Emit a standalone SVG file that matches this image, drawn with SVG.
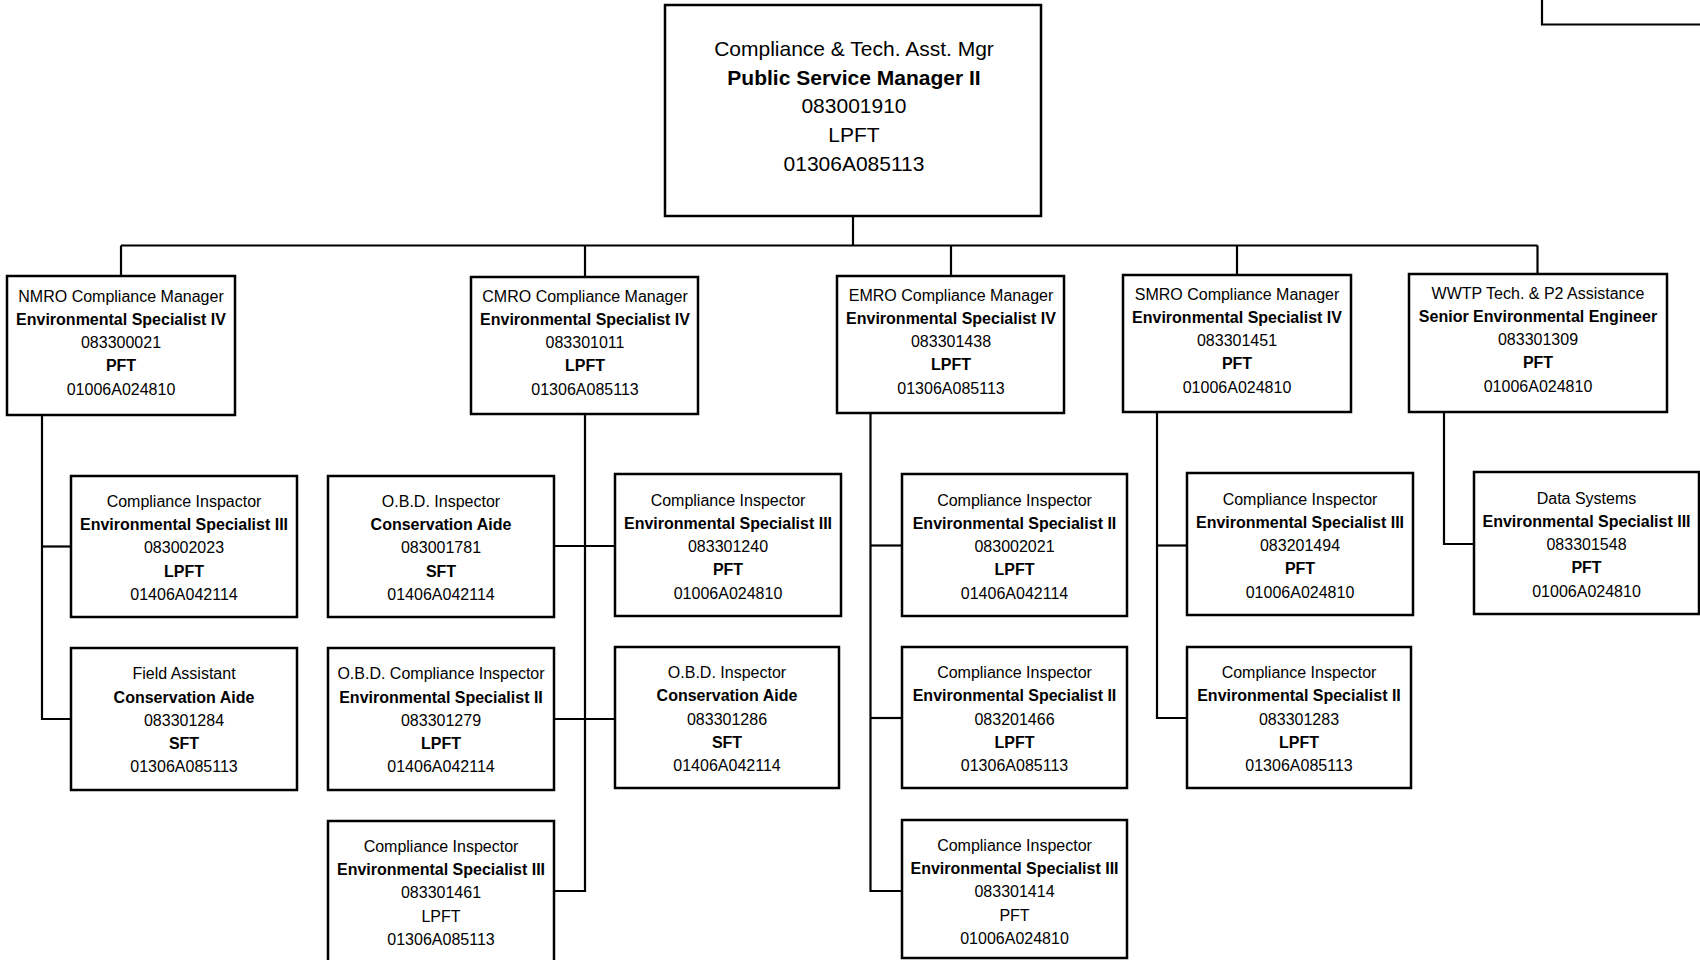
<svg xmlns="http://www.w3.org/2000/svg" width="1700" height="960" viewBox="0 0 1700 960">
  <style>
    .box { fill: #ffffff; stroke: #000000; stroke-width: 2.5; }
    .wire { fill: none; stroke: #000000; stroke-width: 2.2; }
    text { font-family: "Liberation Sans", Arial, Helvetica, sans-serif; fill: #000000; text-anchor: middle; }
    .t16 { font-size: 16px; }
    .t21 { font-size: 21px; }
    .b { font-weight: bold; }
  </style>
  <rect x="0" y="0" width="1700" height="960" fill="#ffffff"/>

  <!-- Reporting lines -->
  <g id="connectors" class="wire">
    <!-- manager to regional bus -->
    <path d="M853,216 V245.5"/>
    <path d="M121,245.5 H1537.5"/>
    <path d="M121,245.5 V276"/>
    <path d="M585,245.5 V277"/>
    <path d="M951,245.5 V276"/>
    <path d="M1237,245.5 V275"/>
    <path d="M1537.5,245.5 V274"/>
    <!-- NMRO staff -->
    <path d="M42,415 V719 H71"/>
    <path d="M42,546.5 H71"/>
    <!-- CMRO staff -->
    <path d="M585,414 V891 H554"/>
    <path d="M554,546 H615"/>
    <path d="M554,719 H615"/>
    <!-- EMRO staff -->
    <path d="M870.5,413 V891 H902"/>
    <path d="M870.5,545.5 H902"/>
    <path d="M870.5,718 H902"/>
    <!-- SMRO staff -->
    <path d="M1157,412 V718 H1187"/>
    <path d="M1157,545.5 H1187"/>
    <!-- WWTP staff -->
    <path d="M1444,412 V544 H1474"/>
  </g>

  <!-- legend box at the page corner -->
  <g id="legend">
    <path class="wire" d="M1542,0 V24.5 H1700"/>
  </g>

  <!-- Program manager -->
  <g id="mgr">
    <rect class="box" x="665" y="5" width="376" height="211"/>
    <text class="t21" x="854" y="55.5">Compliance &amp; Tech. Asst. Mgr</text>
    <text class="t21 b" x="854" y="84.5">Public Service Manager II</text>
    <text class="t21" x="854" y="113">083001910</text>
    <text class="t21" x="854" y="142">LPFT</text>
    <text class="t21" x="854" y="170.5">01306A085113</text>
  </g>

  <!-- Regional compliance managers -->
  <g id="nmro">
    <rect class="box" x="7" y="276" width="228" height="139"/>
    <text class="t16" x="121" y="301.5">NMRO Compliance Manager</text>
    <text class="t16 b" x="121" y="324.8">Environmental Specialist IV</text>
    <text class="t16" x="121" y="348">083300021</text>
    <text class="t16 b" x="121" y="371.4">PFT</text>
    <text class="t16" x="121" y="394.7">01006A024810</text>
  </g>
  <g id="cmro">
    <rect class="box" x="471" y="277" width="227" height="137"/>
    <text class="t16" x="585" y="301.5">CMRO Compliance Manager</text>
    <text class="t16 b" x="585" y="324.8">Environmental Specialist IV</text>
    <text class="t16" x="585" y="348">083301011</text>
    <text class="t16 b" x="585" y="371.4">LPFT</text>
    <text class="t16" x="585" y="394.7">01306A085113</text>
  </g>
  <g id="emro">
    <rect class="box" x="837" y="276" width="227" height="137"/>
    <text class="t16" x="951" y="300.5">EMRO Compliance Manager</text>
    <text class="t16 b" x="951" y="323.8">Environmental Specialist IV</text>
    <text class="t16" x="951" y="347">083301438</text>
    <text class="t16 b" x="951" y="370.4">LPFT</text>
    <text class="t16" x="951" y="393.7">01306A085113</text>
  </g>
  <g id="smro">
    <rect class="box" x="1123" y="275" width="228" height="137"/>
    <text class="t16" x="1237" y="299.5">SMRO Compliance Manager</text>
    <text class="t16 b" x="1237" y="322.8">Environmental Specialist IV</text>
    <text class="t16" x="1237" y="346">083301451</text>
    <text class="t16 b" x="1237" y="369.4">PFT</text>
    <text class="t16" x="1237" y="392.7">01006A024810</text>
  </g>
  <g id="wwtp">
    <rect class="box" x="1409" y="274" width="258" height="138"/>
    <text class="t16" x="1538" y="298.5">WWTP Tech. &amp; P2 Assistance</text>
    <text class="t16 b" x="1538" y="321.8">Senior Environmental Engineer</text>
    <text class="t16" x="1538" y="345">083301309</text>
    <text class="t16 b" x="1538" y="368.4">PFT</text>
    <text class="t16" x="1538" y="391.7">01006A024810</text>
  </g>

  <!-- NMRO staff -->
  <g id="n-insp">
    <rect class="box" x="71" y="476" width="226" height="141"/>
    <text class="t16" x="184" y="506.7">Compliance Inspactor</text>
    <text class="t16 b" x="184" y="530">Environmental Specialist III</text>
    <text class="t16" x="184" y="553.3">083002023</text>
    <text class="t16 b" x="184" y="576.6">LPFT</text>
    <text class="t16" x="184" y="599.9">01406A042114</text>
  </g>
  <g id="n-field">
    <rect class="box" x="71" y="648" width="226" height="142"/>
    <text class="t16" x="184" y="679.2">Field Assistant</text>
    <text class="t16 b" x="184" y="702.5">Conservation Aide</text>
    <text class="t16" x="184" y="725.8">083301284</text>
    <text class="t16 b" x="184" y="749.1">SFT</text>
    <text class="t16" x="184" y="772.4">01306A085113</text>
  </g>

  <!-- CMRO staff -->
  <g id="c-obd1">
    <rect class="box" x="328" y="476" width="226" height="141"/>
    <text class="t16" x="441" y="506.7">O.B.D. Inspector</text>
    <text class="t16 b" x="441" y="530">Conservation Aide</text>
    <text class="t16" x="441" y="553.3">083001781</text>
    <text class="t16 b" x="441" y="576.6">SFT</text>
    <text class="t16" x="441" y="599.9">01406A042114</text>
  </g>
  <g id="c-obdci">
    <rect class="box" x="328" y="648" width="226" height="142"/>
    <text class="t16" x="441" y="679.2">O.B.D. Compliance Inspector</text>
    <text class="t16 b" x="441" y="702.5">Environmental Specialist II</text>
    <text class="t16" x="441" y="725.8">083301279</text>
    <text class="t16 b" x="441" y="749.1">LPFT</text>
    <text class="t16" x="441" y="772.4">01406A042114</text>
  </g>
  <g id="c-insp3">
    <rect class="box" x="328" y="821" width="226" height="160"/>
    <text class="t16" x="441" y="851.7">Compliance Inspector</text>
    <text class="t16 b" x="441" y="875">Environmental Specialist III</text>
    <text class="t16" x="441" y="898.3">083301461</text>
    <text class="t16" x="441" y="921.6">LPFT</text>
    <text class="t16" x="441" y="944.9">01306A085113</text>
  </g>
  <g id="c-insp1">
    <rect class="box" x="615" y="474" width="226" height="142"/>
    <text class="t16" x="728" y="505.5">Compliance Inspector</text>
    <text class="t16 b" x="728" y="528.8">Environmental Specialist III</text>
    <text class="t16" x="728" y="552.1">083301240</text>
    <text class="t16 b" x="728" y="575.4">PFT</text>
    <text class="t16" x="728" y="598.7">01006A024810</text>
  </g>
  <g id="c-obd2">
    <rect class="box" x="615" y="647" width="224" height="141"/>
    <text class="t16" x="727" y="678">O.B.D. Inspector</text>
    <text class="t16 b" x="727" y="701.3">Conservation Aide</text>
    <text class="t16" x="727" y="724.6">083301286</text>
    <text class="t16 b" x="727" y="747.9">SFT</text>
    <text class="t16" x="727" y="771.2">01406A042114</text>
  </g>

  <!-- EMRO staff -->
  <g id="e-insp1">
    <rect class="box" x="902" y="474" width="225" height="142"/>
    <text class="t16" x="1014.5" y="505.5">Compliance Inspector</text>
    <text class="t16 b" x="1014.5" y="528.8">Environmental Specialist II</text>
    <text class="t16" x="1014.5" y="552.1">083002021</text>
    <text class="t16 b" x="1014.5" y="575.4">LPFT</text>
    <text class="t16" x="1014.5" y="598.7">01406A042114</text>
  </g>
  <g id="e-insp2">
    <rect class="box" x="902" y="647" width="225" height="141"/>
    <text class="t16" x="1014.5" y="678">Compliance Inspector</text>
    <text class="t16 b" x="1014.5" y="701.3">Environmental Specialist II</text>
    <text class="t16" x="1014.5" y="724.6">083201466</text>
    <text class="t16 b" x="1014.5" y="747.9">LPFT</text>
    <text class="t16" x="1014.5" y="771.2">01306A085113</text>
  </g>
  <g id="e-insp3">
    <rect class="box" x="902" y="820" width="225" height="138"/>
    <text class="t16" x="1014.5" y="850.7">Compliance Inspector</text>
    <text class="t16 b" x="1014.5" y="874">Environmental Specialist III</text>
    <text class="t16" x="1014.5" y="897.3">083301414</text>
    <text class="t16" x="1014.5" y="920.6">PFT</text>
    <text class="t16" x="1014.5" y="943.9">01006A024810</text>
  </g>

  <!-- SMRO staff -->
  <g id="s-insp1">
    <rect class="box" x="1187" y="473" width="226" height="142"/>
    <text class="t16" x="1300" y="504.5">Compliance Inspector</text>
    <text class="t16 b" x="1300" y="527.8">Environmental Specialist III</text>
    <text class="t16" x="1300" y="551.1">083201494</text>
    <text class="t16 b" x="1300" y="574.4">PFT</text>
    <text class="t16" x="1300" y="597.7">01006A024810</text>
  </g>
  <g id="s-insp2">
    <rect class="box" x="1187" y="647" width="224" height="141"/>
    <text class="t16" x="1299" y="678">Compliance Inspector</text>
    <text class="t16 b" x="1299" y="701.3">Environmental Specialist II</text>
    <text class="t16" x="1299" y="724.6">083301283</text>
    <text class="t16 b" x="1299" y="747.9">LPFT</text>
    <text class="t16" x="1299" y="771.2">01306A085113</text>
  </g>

  <!-- WWTP staff -->
  <g id="w-data">
    <rect class="box" x="1474" y="472" width="225" height="142"/>
    <text class="t16" x="1586.5" y="503.5">Data Systems</text>
    <text class="t16 b" x="1586.5" y="526.8">Environmental Specialist III</text>
    <text class="t16" x="1586.5" y="550.1">083301548</text>
    <text class="t16 b" x="1586.5" y="573.4">PFT</text>
    <text class="t16" x="1586.5" y="596.7">01006A024810</text>
  </g>
</svg>
